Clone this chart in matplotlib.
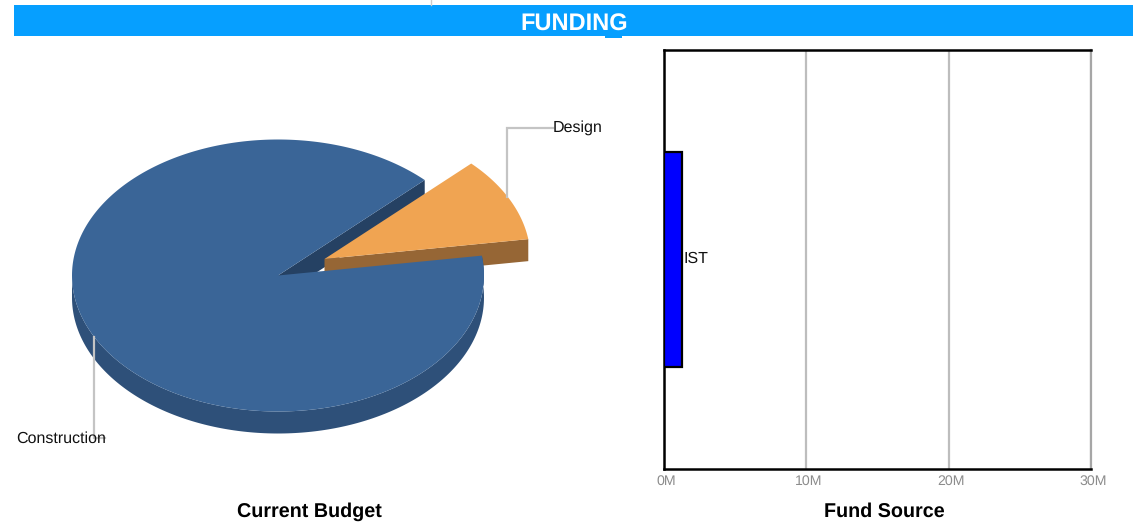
import numpy as np
import matplotlib
matplotlib.use('Agg')
from matplotlib import pyplot as plt
from matplotlib.transforms import ScaledTranslation

plt.rcParams['font.family'] = ['Liberation Sans', 'DejaVu Sans']
plt.rcParams['text.hinting'] = 'no_hinting'

# Data
budget_labels = ['Design', 'Construction']
budget_values = [10.05, 89.95]
fund_labels = ['IST']
fund_values = [1.26]
fund_ticks = [0, 10, 20, 30]
fund_tick_labels = ['0M', '10M', '20M', '30M']

W, H = 1133, 530
fig = plt.figure(figsize=(W / 100, H / 100), dpi=100, facecolor='white')

# Background axes in pixel units, used for the banner and the 3D pie
bg = fig.add_axes([0, 0, 1, 1])
bg.set_xlim(0, W)
bg.set_ylim(H, 0)
bg.axis('off')

# Banner
bg.fill_between([14, 1133], 5, 36, color='#069FFF', lw=0)
bg.fill_between([605, 622], 36, 37.5, color='#069FFF', lw=0)
bg.plot([431, 431], [0, 5], color='#cccccc', lw=1)
bg.text(574.5, 25, 'FUNDING', color='white', fontsize=17, fontweight='bold', ha='center', va='center')

# Pie geometry
cx, cy, rx, ry = 278, 275.5, 206, 136
depth = 22
start = 8.4
sweep = 360 * budget_values[0] / sum(budget_values)
end = start + sweep


def arc(a0, a1, n=120, ox=0, oy=0):
    t = np.radians(np.linspace(a0, a1, n))
    return cx + ox + rx * np.cos(t), cy + oy - ry * np.sin(t)


# Construction, cut face behind the design slice
x, y = arc(end, end, 1)
bg.fill([cx, x[0], x[0], cx], [cy, y[0], y[0] + depth, cy + depth], color='#254163', lw=0)

# Design slice pulled out
ox, oy = 46.5, -16.5
x, y = arc(start, start, 1, ox, oy)
bg.fill([cx + ox, x[0], x[0], cx + ox], [cy + oy, y[0], y[0] + depth, cy + oy + depth], color='#966635', lw=0)
x, y = arc(start, end, 60, ox, oy)
bg.fill(np.r_[cx + ox, x], np.r_[cy + oy, y], color='#F0A452', lw=0)

# Construction, rim then top
x, y = arc(180, 360 + start, 200)
bg.fill(np.r_[x, x[::-1]], np.r_[y, y[::-1] + depth], color='#2E5079', lw=0)
x, y = arc(end, 360 + start, 300)
bg.fill(np.r_[cx, x], np.r_[cy, y], color='#3A6597', lw=0)

# Leader lines and labels
bg.plot([507, 507, 553], [197, 128, 128], color='#c4c4c4', lw=1.6, solid_joinstyle='miter')
bg.plot([94, 94, 105], [337, 438, 438], color='#c4c4c4', lw=1.6, solid_joinstyle='miter')
bg.text(553, 127.5, budget_labels[0], fontsize=11.5, color='#111111', ha='left', va='center')
bg.text(16, 438.5, budget_labels[1], fontsize=11.5, color='#111111', ha='left', va='center')
bg.text(309, 512, 'Current Budget', fontsize=14.2, fontweight='bold', ha='center', va='center')

# Fund source bar chart
ax = fig.add_axes([664 / W, 1 - 469 / H, (1091 - 664) / W, (469 - 50) / H])
ax.barh(fund_labels, fund_values, height=0.515, color='#0000FF', edgecolor='black', linewidth=1.6, zorder=3)
ax.set_xlim(0, 30)
ax.set_ylim(-0.5, 0.5)
ax.set_xticks(fund_ticks)
ax.set_xticklabels(fund_tick_labels, color='#8c8c8c', fontsize=10.2)
ax.set_yticks([])
ax.tick_params(axis='x', length=0, pad=4)
shift = ScaledTranslation(1.8 / 72, 0, fig.dpi_scale_trans)
for lab in ax.get_xticklabels():
    lab.set_transform(lab.get_transform() + shift)
ax.grid(axis='x', color='#bdbdbd', lw=1.6, zorder=1)
for side in ['left', 'top', 'bottom']:
    ax.spines[side].set_linewidth(1.8)
    ax.spines[side].set_color('black')
ax.spines['right'].set_color('#a6a6a6')
ax.spines['right'].set_linewidth(1.6)
ax.text(fund_values[0] + 0.12, 0.002, fund_labels[0], fontsize=11.5, color='#111111', ha='left', va='center', zorder=4)
bg.text(884.5, 512, 'Fund Source', fontsize=14.2, fontweight='bold', ha='center', va='center')

plt.savefig('out.png', dpi=100)
